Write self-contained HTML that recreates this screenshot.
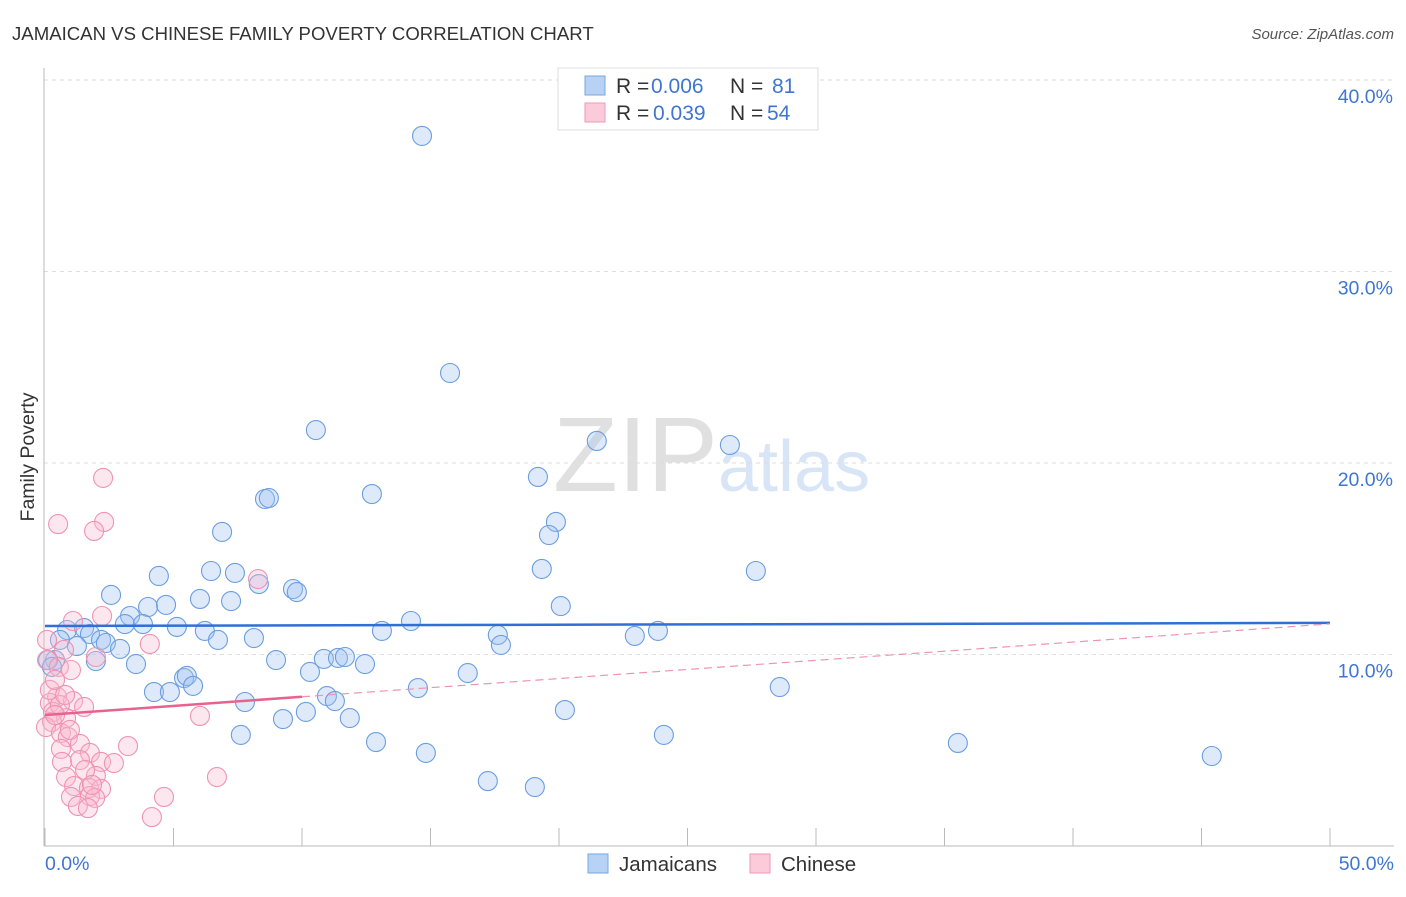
<!DOCTYPE html>
<html><head><meta charset="utf-8"><style>
body{margin:0;background:#fff;font-family:"Liberation Sans",sans-serif;}
svg text{font-family:"Liberation Sans",sans-serif;}
</style></head><body>
<svg id="chart" width="1406" height="892">
<text x="12" y="40" font-size="18.6" fill="#333">JAMAICAN VS CHINESE FAMILY POVERTY CORRELATION CHART</text>
<text x="1394" y="39" font-size="15" fill="#555" font-style="italic" text-anchor="end">Source: ZipAtlas.com</text>
<g>
<text x="553" y="491" font-size="106" font-family="Liberation Serif,serif" fill="#e0e0e0">ZIP</text>
<text x="718" y="491" font-size="72" fill="#d8e5f7">atlas</text>
</g>
<g id="grid"></g>
<line x1="44" y1="68" x2="44" y2="846" stroke="#bbb"/>
<line x1="44" y1="846" x2="1394" y2="846" stroke="#bbb"/>
<g id="xticks"></g>
<text x="45" y="870" font-size="19.5" fill="#3f76d2">0.0%</text>
<text x="1394" y="870" font-size="19.5" fill="#3f76d2" text-anchor="end">50.0%</text>
<text transform="translate(34,457) rotate(-90)" font-size="19.5" fill="#333" text-anchor="middle">Family Poverty</text>
<g id="points"></g>
<g id="trends"></g>
<g>
<rect x="558" y="68" width="260" height="62" fill="#fff" stroke="#ddd"/>
<rect x="585" y="76" width="20" height="19" fill="#b7d2f4" stroke="#7aa7e0"/>
<rect x="585" y="103" width="20" height="19" fill="#fccbd9" stroke="#ee9ab6"/>
<text x="616" y="93" font-size="21" fill="#333">R = <tspan fill="#3f76d2" x="651">0.006</tspan><tspan x="730">N = </tspan><tspan fill="#3f76d2" x="772">81</tspan></text>
<text x="616" y="120" font-size="21" fill="#333">R = <tspan fill="#3f76d2" x="653">0.039</tspan><tspan x="730">N = </tspan><tspan fill="#3f76d2" x="767">54</tspan></text>
</g>
<g>
<rect x="588" y="854" width="20" height="19" fill="#b7d2f4" stroke="#7aa7e0"/>
<text x="619" y="871" font-size="20.5" fill="#333">Jamaicans</text>
<rect x="750" y="854" width="20" height="19" fill="#fccbd9" stroke="#ee9ab6"/>
<text x="781" y="871" font-size="20.5" fill="#333">Chinese</text>
</g>
</svg>
<script>
const yTicks=[10,20,30,40];
const yTickLabels=["10.0%","20.0%","30.0%","40.0%"];
const xTicks=[0,5,10,15,20,25,30,35,40,45,50];
const blueX=[14.67,15.76,10.54,21.47,26.65,19.18,12.72,8.56,8.71,19.88,19.61,6.89,19.33,27.66,6.46,7.39,4.43,2.57,9.65,9.80,8.32,6.03,7.24,4.01,4.71,3.31,3.11,3.81,5.13,20.07,14.24,13.11,23.85,22.95,17.62,17.74,0.86,1.52,0.58,1.75,2.18,2.37,1.24,2.92,6.22,6.73,8.13,0.39,1.98,3.54,8.99,10.85,11.40,11.67,12.45,10.31,16.45,5.41,5.52,5.76,4.24,4.86,14.51,28.59,10.97,11.28,7.78,20.23,10.15,9.26,11.86,7.62,24.08,12.88,35.52,14.82,45.40,17.23,19.06,0.12,0.27];
const blueY=[37.08,24.70,21.72,21.15,20.94,19.27,18.38,18.12,18.17,16.92,16.24,16.40,14.47,14.36,14.36,14.26,14.10,13.11,13.42,13.26,13.68,12.90,12.79,12.48,12.59,12.01,11.59,11.59,11.44,12.53,11.75,11.23,11.23,10.97,11.02,10.50,11.28,11.38,10.76,11.07,10.76,10.60,10.44,10.29,11.23,10.76,10.86,9.71,9.66,9.50,9.71,9.77,9.82,9.87,9.50,9.09,9.03,8.77,8.88,8.36,8.04,8.04,8.25,8.30,7.83,7.57,7.52,7.10,7.00,6.63,6.68,5.80,5.80,5.43,5.38,4.86,4.70,3.39,3.08,9.71,9.35];
const pinkX=[2.26,0.51,2.30,1.91,8.29,2.22,1.09,4.08,0.74,1.98,0.08,0.54,1.01,0.47,1.09,1.52,0.19,0.31,0.82,0.27,6.03,0.04,0.62,0.89,1.36,3.23,0.62,1.75,1.36,2.18,2.68,0.66,0.82,1.98,6.69,1.13,1.71,2.18,1.01,1.75,4.63,1.95,1.28,1.67,4.16,0.08,0.58,0.19,0.39,0.97,1.56,1.83,0.39,0.78];
const pinkY=[19.22,16.81,16.92,16.45,13.94,12.01,11.75,10.55,10.24,9.87,9.71,9.35,9.19,7.78,7.57,7.26,7.47,7.00,6.68,6.48,6.79,6.21,5.90,5.69,5.33,5.22,5.07,4.86,4.49,4.39,4.33,4.39,3.60,3.66,3.60,3.13,3.03,2.98,2.56,2.61,2.56,2.51,2.09,1.98,1.51,10.76,7.36,8.15,8.67,6.06,3.97,3.19,6.84,7.89];
const blueTrend=[11.49,11.65];
const pinkTrend=[6.84,11.6];
const pinkSolidEnd=10;

const X0=45,X1=1330,Y0=846,YPER=19.15;
const xs=v=>X0+(X1-X0)*v/50;
const ys=v=>Y0-v*YPER;
const NS="http://www.w3.org/2000/svg";
function mk(tag,attrs,parent){const e=document.createElementNS(NS,tag);for(const k in attrs)e.setAttribute(k,attrs[k]);parent.appendChild(e);return e;}
const grid=document.getElementById('grid');
yTicks.forEach((t,i)=>{
  const l=mk('line',{x1:44,x2:1394,y1:ys(t),y2:ys(t),stroke:'#ddd','stroke-dasharray':'4,4'},grid);
  
  
  const tx=mk('text',{x:1393,y:ys(t)+23,'font-size':19.5,fill:'#3f76d2','text-anchor':'end'},grid);
  tx.textContent=yTickLabels[i];
  
  
});
const xt=document.getElementById('xticks');
xTicks.forEach(t=>{
  const l=mk('line',{x1:xs(t),x2:xs(t),y1:828,y2:846,stroke:'#bbb'},xt);
  
  
});
const pts=document.getElementById('points');
blueX.forEach((x,i)=>{
  const c=mk('circle',{cx:xs(x),cy:ys(blueY[i]),r:9.5,fill:'rgba(160,196,240,0.35)',stroke:'#6b9ee0','stroke-width':1.1},pts);
  
  
});
pinkX.forEach((x,i)=>{
  const c=mk('circle',{cx:xs(x),cy:ys(pinkY[i]),r:9.5,fill:'rgba(250,185,205,0.35)',stroke:'#ee94b2','stroke-width':1.1},pts);
  
  
});
const tr=document.getElementById('trends');
const b=mk('line',{x1:xs(0),y1:ys(blueTrend[0]),x2:xs(50),y2:ys(blueTrend[1]),stroke:'#2f6fd6','stroke-width':2.5},tr);


const pAt=v=>pinkTrend[0]+(pinkTrend[1]-pinkTrend[0])*v/50;
const pd=mk('line',{x1:xs(pinkSolidEnd),y1:ys(pAt(pinkSolidEnd)),x2:xs(50),y2:ys(pinkTrend[1]),stroke:'#ee94b2','stroke-width':1.2,'stroke-dasharray':'8,5'},tr);


const ps=mk('line',{x1:xs(0),y1:ys(pinkTrend[0]),x2:xs(pinkSolidEnd),y2:ys(pAt(pinkSolidEnd)),stroke:'#e8628f','stroke-width':2.5},tr);


</script>
</body></html>
